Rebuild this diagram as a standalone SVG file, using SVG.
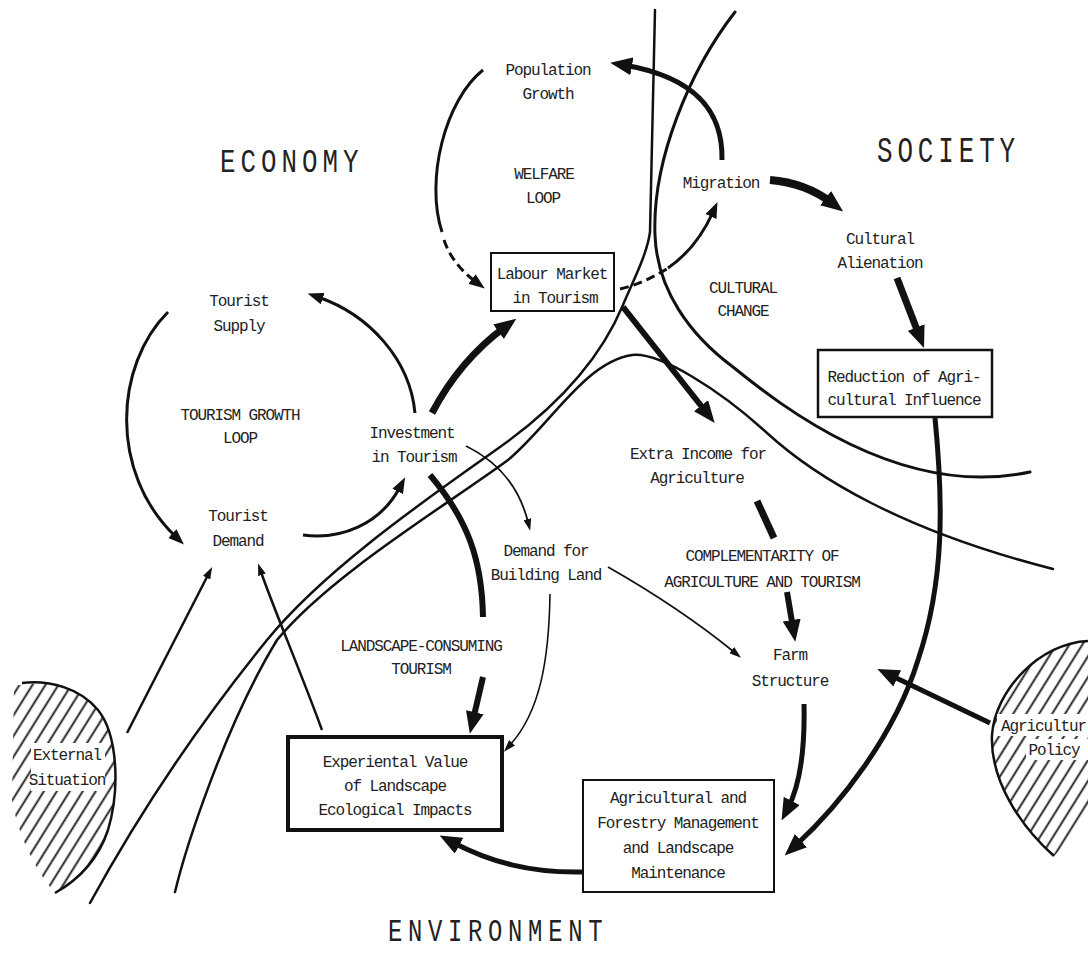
<svg xmlns="http://www.w3.org/2000/svg" width="1088" height="954" viewBox="0 0 1088 954">
<defs>
<style>
.t{font-family:"Liberation Mono",monospace;font-size:16px;letter-spacing:-1.1px;fill:#222;text-anchor:middle}
.h{font-family:"Liberation Mono",monospace;fill:#222}
.b{fill:none;stroke:#111;stroke-width:3;stroke-linecap:round}
.d{fill:none;stroke:#111;stroke-width:2.5;stroke-linecap:round}
.c{fill:none;stroke:#111;stroke-linecap:butt}
.box{fill:#fff;stroke:#111}
.hz{fill:url(#hatch);stroke:none}
.ol{fill:none;stroke:#111;stroke-width:2.5}
</style>
<pattern id="hatch" patternUnits="userSpaceOnUse" width="11" height="11" patternTransform="rotate(32)">
<line x1="5.5" y1="0" x2="5.5" y2="11" stroke="#111" stroke-width="1.8"/>
</pattern>
<marker id="aL" markerUnits="userSpaceOnUse" viewBox="0 0 22 18" markerWidth="22" markerHeight="18" refX="8" refY="9" orient="auto"><path d="M0,0 L22,9 L0,18 z" fill="#111"/></marker>
<marker id="aM" markerUnits="userSpaceOnUse" viewBox="0 0 16 12" markerWidth="16" markerHeight="12" refX="5" refY="6" orient="auto"><path d="M0,0 L16,6 L0,12 z" fill="#111"/></marker>
<marker id="aS" markerUnits="userSpaceOnUse" viewBox="0 0 12 8" markerWidth="12" markerHeight="8" refX="3" refY="4" orient="auto"><path d="M0,0 L12,4 L0,8 z" fill="#111"/></marker>
</defs>
<rect width="1088" height="954" fill="#fff"/>

<g id="sector-boundaries">
<path class="d" d="M90,903 C130,830 190,735 267,640 C327,566 440,490 500,447 C555,408 600,360 623,305 C632,283 647,255 650,232 L655,10"/>
<path class="d" d="M175,892 C185,850 225,725 277,640 C330,575 450,503 508,460 C550,425 585,362 632,355 C660,352 720,390 767,433 C814,476 900,530 1053,569"/>
<path class="b" d="M735,12 C690,70 652,160 655,235 C657,290 690,335 733,367 C780,405 900,500 1030,472"/>
</g>

<g id="sector-labels">
<text class="h" font-size="34" letter-spacing="6.6" transform="translate(220,172) scale(0.76,1)">ECONOMY</text>
<text class="h" font-size="37" letter-spacing="7" transform="translate(877,162) scale(0.7,1)">SOCIETY</text>
<text class="h" font-size="31" letter-spacing="7.4" transform="translate(388,941) scale(0.77,1)">ENVIRONMENT</text>
</g>

<g id="external-situation">
<path class="hz" d="M14,686 C40,680 75,683 98,710 C118,735 120,790 108,830 C98,860 78,880 55,893 C35,870 18,835 12,800 Z"/>
<path class="ol" d="M22,683 C50,680 80,688 98,710 C118,735 120,790 108,830 C98,860 78,880 55,893"/>
<rect x="31" y="743" width="74" height="48" fill="#fff"/>
<text class="t" x="67" y="760">External</text>
<text class="t" x="67" y="785">Situation</text>
</g>

<g id="agricultural-policy">
<path class="hz" d="M1088,641 C1040,643 995,690 992,735 C990,780 1020,826 1054,856 C1066,845 1078,830 1088,815 Z"/>
<path class="ol" d="M1088,641 C1040,643 995,690 992,735 C990,780 1020,826 1054,856"/>
<rect x="997" y="714" width="91" height="22" fill="#fff"/>
<rect x="1026" y="739" width="62" height="21" fill="#fff"/>
<text class="t" x="1001" y="731" style="text-anchor:start">Agricultur</text>
<text class="t" x="1054" y="755">Policy</text>
</g>

<g id="connectors">
<path class="c" stroke-width="3" d="M168,312 C115,365 108,472 176,537" marker-end="url(#aM)"/>
<path class="c" stroke-width="3" d="M415,413 C410,360 370,315 318,297" marker-end="url(#aM)"/>
<path class="c" stroke-width="3" d="M303,535 C340,540 380,525 400,487" marker-end="url(#aM)"/>
<path class="c" stroke-width="7" d="M432,413 Q460,360 505,327" marker-end="url(#aL)"/>
<path class="c" stroke-width="3" d="M483,70 C445,100 425,180 442,232"/>
<path class="c" stroke-width="3" stroke-dasharray="9,5" d="M444,240 Q452,264 476,282" marker-end="url(#aM)"/>
<path class="c" stroke-width="3" stroke-dasharray="9,5" d="M620,289 Q645,283 668,268"/>
<path class="c" stroke-width="3" d="M668,268 Q697,248 713,212" marker-end="url(#aM)"/>
<path class="c" stroke-width="5" d="M722,160 C723,115 700,78 624,65" marker-end="url(#aL)"/>
<path class="c" stroke-width="8" d="M770,180 C795,182 815,190 832,203" marker-end="url(#aL)"/>
<path class="c" stroke-width="7" d="M897,278 L919,335" marker-end="url(#aL)"/>
<path class="c" stroke-width="6" d="M623,307 L706,412" marker-end="url(#aL)"/>
<path class="c" stroke-width="7" d="M757,501 L774,538"/>
<path class="c" stroke-width="6" d="M787,592 L793,628" marker-end="url(#aL)"/>
<path class="c" stroke-width="5" d="M804,704 C805,750 800,785 788,808" marker-end="url(#aL)"/>
<path class="c" stroke-width="5" d="M935,418 C943,500 945,580 918,660 C895,735 840,805 795,846" marker-end="url(#aL)"/>
<path class="c" stroke-width="5" d="M990,723 L890,675" marker-end="url(#aL)"/>
<path class="c" stroke-width="5" d="M582,872 C530,873 490,862 452,842" marker-end="url(#aL)"/>
<path class="c" stroke-width="6" d="M430,475 C468,520 482,560 483,617"/>
<path class="c" stroke-width="6" d="M483,677 L473,720" marker-end="url(#aL)"/>
<path class="c" stroke-width="1.8" d="M466,446 Q515,470 528,522" marker-end="url(#aS)"/>
<path class="c" stroke-width="1.8" d="M608,567 Q680,608 734,652" marker-end="url(#aS)"/>
<path class="c" stroke-width="1.6" d="M550,594 C549,660 540,712 510,745" marker-end="url(#aS)"/>
<path class="c" stroke-width="2.5" d="M127,733 L208,575" marker-end="url(#aS)"/>
<path class="c" stroke-width="2.5" d="M322,730 C300,670 275,612 261,572" marker-end="url(#aS)"/>
</g>

<g id="population-growth">
<text class="t" x="548" y="75">Population</text>
<text class="t" x="548" y="99">Growth</text>
</g>
<g id="welfare-loop">
<text class="t" x="544" y="179">WELFARE</text>
<text class="t" x="543" y="203">LOOP</text>
</g>
<g id="migration">
<text class="t" x="721" y="188">Migration</text>
</g>
<g id="labour-market">
<rect class="box" x="491" y="253" width="123" height="58" stroke-width="2"/>
<text class="t" x="552" y="279">Labour Market</text>
<text class="t" x="555" y="303">in Tourism</text>
</g>
<g id="tourist-supply">
<text class="t" x="239" y="306">Tourist</text>
<text class="t" x="239" y="331">Supply</text>
</g>
<g id="tourism-growth-loop">
<text class="t" x="240" y="420">TOURISM GROWTH</text>
<text class="t" x="240" y="443">LOOP</text>
</g>
<g id="investment-in-tourism">
<text class="t" x="412" y="438">Investment</text>
<text class="t" x="414" y="462">in Tourism</text>
</g>
<g id="tourist-demand">
<text class="t" x="238" y="521">Tourist</text>
<text class="t" x="238" y="546">Demand</text>
</g>
<g id="demand-building-land">
<text class="t" x="546" y="556">Demand for</text>
<text class="t" x="546" y="580">Building Land</text>
</g>
<g id="extra-income">
<text class="t" x="698" y="459">Extra Income for</text>
<text class="t" x="697" y="483">Agriculture</text>
</g>
<g id="complementarity">
<text class="t" x="762" y="561">COMPLEMENTARITY OF</text>
<text class="t" x="762" y="587">AGRICULTURE AND TOURISM</text>
</g>
<g id="farm-structure">
<text class="t" x="790" y="660">Farm</text>
<text class="t" x="790" y="686">Structure</text>
</g>
<g id="cultural-change">
<text class="t" x="743" y="293">CULTURAL</text>
<text class="t" x="743" y="316">CHANGE</text>
</g>
<g id="cultural-alienation">
<text class="t" x="880" y="244">Cultural</text>
<text class="t" x="880" y="268">Alienation</text>
</g>
<g id="reduction-agri-influence">
<rect class="box" x="818" y="350" width="174" height="67" stroke-width="2.5"/>
<text class="t" x="904" y="382">Reduction of Agri-</text>
<text class="t" x="904" y="405">cultural Influence</text>
</g>
<g id="landscape-consuming">
<text class="t" x="421" y="651">LANDSCAPE-CONSUMING</text>
<text class="t" x="421" y="674">TOURISM</text>
</g>
<g id="experiential-value">
<rect class="box" x="288" y="737" width="214" height="93" stroke-width="4"/>
<text class="t" x="395" y="767">Experiental Value</text>
<text class="t" x="395" y="791">of Landscape</text>
<text class="t" x="395" y="815">Ecological Impacts</text>
</g>
<g id="agri-forestry-management">
<rect class="box" x="583" y="780" width="191" height="112" stroke-width="2"/>
<text class="t" x="678" y="803">Agricultural and</text>
<text class="t" x="678" y="828">Forestry Management</text>
<text class="t" x="678" y="853">and Landscape</text>
<text class="t" x="678" y="878">Maintenance</text>
</g>
</svg>
